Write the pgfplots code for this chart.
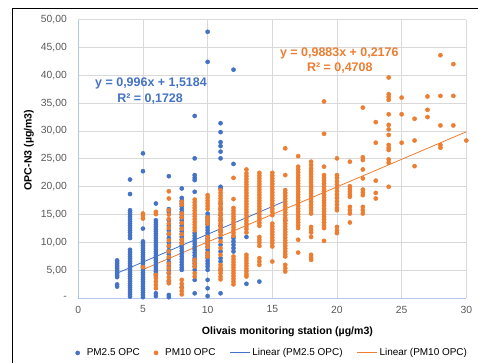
\documentclass[border=0pt]{standalone}
\usepackage{pgfplots}
\pgfplotsset{compat=1.18}
\usepackage{fontspec}
\setmainfont{Liberation Sans}
\definecolor{cblue}{HTML}{4472C4}
\definecolor{corange}{HTML}{ED7D31}
\definecolor{gridc}{HTML}{D9D9D9}
\definecolor{axc}{HTML}{B4C7E7}
\definecolor{tickc}{HTML}{595959}
\pgfplotsset{lineleg/.style={legend image code/.code={\draw[draw=#1, line width=0.9bp] (0bp,0bp) -- (20bp,0bp);}}}
\begin{document}
\begin{tikzpicture}
\begin{axis}[
 scale only axis, width=388bp, height=278.8bp,
 at={(0,0)}, anchor=south west,
 xmin=0, xmax=30, ymin=0, ymax=50,
 xtick={0,5,10,15,20,25,30}, ytick={0,5,10,15,20,25,30,35,40,45,50},
 yticklabels={{-},{5,00},{10,00},{15,00},{20,00},{25,00},{30,00},{35,00},{40,00},{45,00},{50,00}},
 grid=major, major grid style={gridc, line width=0.9bp},
 axis x line*=bottom, axis y line*=left,
 axis line style={axc, line width=0.9bp, -},
 tick style={draw=none},
 /pgf/number format/assume math mode=true,
 ticklabel style={font=\fontsize{10.4}{12}\selectfont, text=tickc},
 xticklabel style={yshift=-4bp},
 yticklabel style={xshift=-8bp},
 xlabel={Olivais monitoring station (µg/m3)},
 ylabel={OPC-N3 (µg/m3)},
 label style={font=\bfseries\fontsize{10.6}{12}\selectfont},
 xlabel style={at={(axis description cs:0.539,-0.119)}, anchor=center},
 ylabel style={at={(axis description cs:-0.127,0.532)}, anchor=center},
 clip=false,
 legend columns=4,
 legend cell align=left,
 legend style={at={(axis description cs:0.5,-0.196)}, anchor=center, draw=none, fill=none,
   font=\fontsize{10}{12}\selectfont, /tikz/every even column/.append style={column sep=12bp}},
]
\addplot[only marks, mark=*, mark size=2.1bp, cblue, mark options={draw=cblue, fill=cblue}] coordinates {
(3,6.8)(3,6.5)(3,6.2)(3,5.9)(3,5.6)(3,5.3)(3,5.0)(3,4.7)(3,4.4)(3,4.1)(3,3.8)(3,2.5)(3,2.1)
(4,21.3)(4,18.7)(4,15.8)(4,15.4)(4,15.0)(4,14.6)(4,14.2)(4,13.8)(4,13.4)(4,13.0)(4,12.6)(4,12.2)(4,11.8)(4,11.3)(4,10.8)(4,8.7)(4,8.3)(4,7.9)(4,7.5)(4,7.1)(4,6.7)(4,6.3)(4,5.9)(4,5.5)(4,5.1)(4,4.7)(4,4.3)(4,3.9)(4,3.5)(4,3.1)(4,2.7)(4,2.3)(4,1.9)(4,1.5)(4,1.1)(4,0.7)(4,0.3)
(5,26.0)(5,22.8)(5,12.5)(5,10.2)(5,9.8)(5,9.4)(5,9.0)(5,8.6)(5,8.2)(5,7.8)(5,7.4)(5,7.0)(5,6.6)(5,6.2)(5,5.8)(5,5.4)(5,5.0)(5,4.6)(5,4.2)(5,3.8)(5,3.4)(5,3.0)(5,2.6)(5,2.2)(5,1.8)(5,1.4)(5,1.0)(5,0.6)(5,0.2)
(6,17.0)(6,14.0)(6,13.6)(6,13.2)(6,12.8)(6,12.4)(6,12.0)(6,11.6)(6,11.2)(6,10.8)(6,10.4)(6,10.0)(6,9.6)(6,9.2)(6,8.8)(6,8.4)(6,8.0)(6,7.6)(6,7.2)(6,6.8)(6,6.4)(6,6.0)(6,5.6)(6,5.2)(6,4.8)(6,4.4)(6,4.0)(6,0.9)(6,0.4)
(7,21.9)(7,16.0)(7,15.5)(7,14.0)(7,13.0)(7,12.2)(7,11.5)(7,10.8)(7,10.0)(7,9.3)(7,8.6)(7,7.9)(7,7.2)(7,6.5)(7,5.8)(7,5.1)(7,4.5)(7,3.0)(7,0.6)(7,0.2)
(8,19.7)(8,18.0)(8,17.5)(8,17.0)(8,16.5)(8,16.0)(8,15.5)(8,15.0)(8,14.5)(8,14.0)(8,13.5)(8,13.0)(8,12.5)(8,12.0)(8,11.5)(8,11.0)(8,10.5)(8,10.0)(8,9.5)(8,9.0)(8,8.5)(8,8.0)(8,7.5)(8,7.0)(8,6.5)(8,6.0)(8,5.5)(8,5.1)(8,2.0)
(9,32.7)(9,25.1)(9,22.1)(9,21.6)(9,21.2)(9,19.1)(9,11.7)(9,11.2)(9,10.7)(9,10.2)(9,9.7)(9,9.2)(9,8.7)(9,8.2)(9,7.7)(9,7.2)(9,6.7)(9,6.2)(9,5.7)(9,5.1)(9,3.3)(9,0.9)
(10,47.8)(10,42.4)(10,15.2)(10,14.7)(10,14.2)(10,13.7)(10,13.2)(10,12.7)(10,12.2)(10,11.7)(10,11.2)(10,10.7)(10,10.2)(10,9.7)(10,9.2)(10,8.7)(10,8.2)(10,7.7)(10,7.2)(10,6.7)(10,6.2)(10,5.7)(10,5.1)(10,3.3)(10,1.8)(10,0.4)
(11,31.4)(11,29.8)(11,28.0)(11,27.3)(11,26.3)(11,25.1)(11,20.0)(11,19.7)(11,17.0)(11,16.0)(11,15.0)(11,14.0)(11,13.0)(11,12.0)(11,10.8)(11,9.6)(11,8.4)(11,7.2)(11,6.6)(11,5.1)(11,0.9)
(12,41.0)(12,24.1)(12,10.8)(12,10.2)(12,9.6)(12,9.0)(12,8.4)
(13,11.0)(13,2.6)(14,3.0)(16,14.0)
};
\addlegendentry{\hspace{5bp}PM2.5 OPC}
\addplot[only marks, mark=*, mark size=2.1bp, corange, mark options={draw=corange, fill=corange}] coordinates {
(5,15.2)(5,14.8)(5,14.3)(5,5.6)
(6,15.5)(6,15.1)(6,4.2)(6,3.6)(6,3.0)(6,2.4)(6,1.8)
(7,19.2)(7,17.9)(7,15.8)(7,15.0)(7,14.2)(7,13.4)(7,12.6)(7,11.6)(7,10.4)(7,9.4)(7,8.4)(7,7.4)(7,6.2)(7,5.4)(7,4.6)(7,3.8)(7,3.2)(7,2.7)
(8,17.3)(8,16.8)(8,15.2)(8,14.5)(8,13.5)(8,12.5)(8,11.5)(8,10.5)(8,9.9)(8,3.3)(8,2.6)(8,1.9)(8,1.3)(8,0.7)
(9,17.7)(9,17.2)(9,16.7)(9,16.2)(9,15.7)(9,15.2)(9,14.7)(9,14.2)(9,13.7)(9,13.2)(9,12.7)(9,12.2)(9,6.9)(9,6.3)(9,5.7)(9,4.5)(9,3.9)
(10,18.5)(10,18.0)(10,17.5)(10,17.0)(10,16.5)(10,16.0)(10,14.5)(10,14.0)(10,13.4)(10,11.0)(10,10.4)(10,9.8)(10,9.2)(10,8.1)(10,7.5)
(11,19.4)(11,18.9)(11,18.4)(11,17.9)(11,17.4)(11,16.9)(11,16.4)(11,15.9)(11,15.4)(11,14.9)(11,14.4)(11,13.9)(11,13.4)(11,12.9)(11,12.4)(11,11.9)(11,11.4)(11,10.2)(11,9.0)(11,7.8)(11,6.0)(11,5.5)(11,5.0)(11,4.5)(11,3.9)(11,3.4)
(12,21.6)(12,17.8)(12,16.2)(12,15.7)(12,15.2)(12,14.7)(12,14.2)(12,13.7)(12,13.2)(12,12.7)(12,12.2)(12,11.7)(12,11.2)(12,7.5)(12,7.0)(12,6.5)(12,6.0)(12,5.5)(12,5.0)(12,4.5)(12,4.0)(12,3.5)(12,3.0)(12,2.5)
(13,23.1)(13,22.4)(13,21.9)(13,21.4)(13,20.9)(13,20.4)(13,19.9)(13,19.4)(13,18.9)(13,18.4)(13,17.9)(13,17.4)(13,16.9)(13,16.4)(13,15.9)(13,15.4)(13,14.9)(13,14.4)(13,13.9)(13,13.4)(13,12.9)(13,12.4)(13,11.8)(13,7.8)(13,7.3)(13,6.8)(13,6.3)(13,5.8)(13,5.3)(13,4.8)(13,4.3)(13,3.9)
(14,22.5)(14,22.0)(14,21.5)(14,21.0)(14,20.5)(14,20.0)(14,19.5)(14,19.0)(14,18.5)(14,18.0)(14,17.5)(14,17.0)(14,16.5)(14,16.0)(14,15.5)(14,15.0)(14,14.5)(14,14.0)(14,13.5)(14,13.0)(14,11.0)(14,10.5)(14,10.0)(14,9.4)(14,7.2)(14,6.6)(14,6.0)
(15,22.5)(15,22.0)(15,21.5)(15,21.0)(15,20.5)(15,20.0)(15,19.5)(15,19.0)(15,18.5)(15,18.0)(15,17.5)(15,17.0)(15,16.5)(15,16.0)(15,15.5)(15,14.9)(15,13.4)(15,12.9)(15,12.4)(15,11.9)(15,11.4)(15,10.9)(15,10.4)(15,9.9)(15,9.3)(15,6.6)
(16,26.9)(16,22.1)(16,19.4)(16,18.9)(16,18.4)(16,17.9)(16,17.4)(16,16.9)(16,16.4)(16,15.9)(16,15.4)(16,14.9)(16,14.4)(16,13.9)(16,13.4)(16,12.9)(16,12.4)(16,11.9)(16,11.4)(16,10.9)(16,10.4)(16,9.9)(16,9.4)(16,8.9)(16,8.4)(16,7.9)(16,7.5)(16,6.0)(16,5.4)(16,4.8)
(17,25.5)(17,23.6)(17,23.1)(17,22.6)(17,22.1)(17,21.6)(17,21.1)(17,20.6)(17,20.1)(17,19.6)(17,19.1)(17,18.6)(17,18.1)(17,17.6)(17,17.1)(17,16.6)(17,16.1)(17,15.6)(17,15.1)(17,14.6)(17,14.1)(17,13.6)(17,13.1)(17,12.6)(17,10.5)(17,8.2)
(18,24.5)(18,23.9)(18,23.3)(18,22.8)(18,22.3)(18,21.8)(18,21.3)(18,20.8)(18,20.3)(18,19.8)(18,19.3)(18,18.8)(18,18.3)(18,17.8)(18,17.3)(18,16.8)(18,16.3)(18,15.8)(18,15.2)(18,12.8)(18,12.3)(18,11.8)(18,11.0)(18,7.8)(18,7.3)(18,6.9)
(19,35.3)(19,29.5)(19,23.6)(19,22.1)(19,21.6)(19,21.1)(19,20.6)(19,20.1)(19,19.6)(19,19.1)(19,18.6)(19,18.1)(19,17.6)(19,17.1)(19,16.6)(19,16.1)(19,15.6)(19,15.1)(19,14.6)(19,14.1)(19,13.6)(19,13.1)(19,12.6)(19,10.3)
(20,25.1)(20,22.1)(20,21.6)(20,21.0)(20,20.4)(20,19.8)(20,19.2)(20,18.6)(20,18.0)(20,17.4)(20,16.8)(20,16.2)(20,15.8)(20,12.8)(20,12.2)(20,11.7)
(21,24.5)(21,20.1)(21,19.6)(21,19.1)(21,18.6)(21,18.2)(21,16.4)(21,15.8)(21,15.2)(21,13.6)
(22,34.2)(22,25.3)(22,24.8)(22,23.1)(22,21.5)(22,19.5)(22,19.0)(22,18.5)(22,16.4)(22,15.8)(22,15.2)
(23,31.6)(23,27.9)(23,21.1)(23,18.9)(23,17.9)
(24,39.6)(24,36.6)(24,36.1)(24,35.6)(24,33.0)(24,31.1)(24,30.3)(24,29.3)(24,27.5)(24,27.0)(24,26.6)(24,24.9)(24,24.3)(24,20.0)
(25,36.0)(25,33.0)(25,27.9)
(26,32.2)(26,28.3)(26,23.7)
(27,36.2)(27,33.8)(27,32.5)
(28,43.6)(28,36.3)(28,31.0)(28,27.5)(28,27.0)
(29,42.0)(29,36.3)(29,31.0)
(30,28.3)
};
\addlegendentry{\hspace{5bp}PM10 OPC}
\addplot[cblue, line width=0.8bp, no marks, lineleg=cblue] coordinates {(3,4.506) (16,17.454)};
\addlegendentry{Linear (PM2.5 OPC)}
\addplot[corange, line width=0.8bp, no marks, lineleg=corange] coordinates {(5,5.159) (30,29.866)};
\addlegendentry{Linear (PM10 OPC)}
\node[font=\bfseries\fontsize{12.5}{14}\selectfont, text=cblue] at (axis cs:5.62,38.56) {y = 0,996x + 1,5184};
\node[font=\bfseries\fontsize{12.5}{14}\selectfont, text=cblue] at (axis cs:5.55,35.69) {R² = 0,1728};
\node[font=\bfseries\fontsize{12.5}{14}\selectfont, text=corange] at (axis cs:20.18,43.94) {y = 0,9883x + 0,2176};
\node[font=\bfseries\fontsize{12.5}{14}\selectfont, text=corange] at (axis cs:20.22,41.25) {R² = 0,4708};
\end{axis}
\draw[black, line width=0.9bp] (-66.3bp,-90bp) -- (-66.3bp,290.3bp) -- (420bp,290.3bp);
\pgfresetboundingbox
\path[use as bounding box] (-78.3bp,-64.7bp) rectangle (399.7bp,298.3bp);
\end{tikzpicture}
\end{document}
